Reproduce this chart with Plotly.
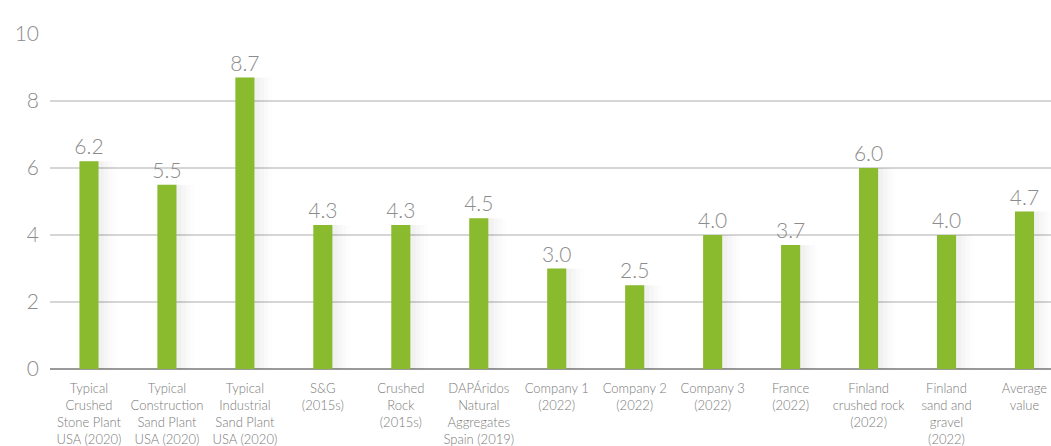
import plotly.graph_objects as go

categories = [
    "Typical<br>Crushed<br>Stone Plant<br>USA (2020)",
    "Typical<br>Construction<br>Sand Plant<br>USA (2020)",
    "Typical<br>Industrial<br>Sand Plant<br>USA (2020)",
    "S&G<br>(2015s)",
    "Crushed<br>Rock<br>(2015s)",
    "DAPÁridos<br>Natural<br>Aggregates<br>Spain (2019)",
    "Company 1<br>(2022)",
    "Company 2<br>(2022)",
    "Company 3<br>(2022)",
    "France<br>(2022)",
    "Finland<br>crushed rock<br>(2022)",
    "Finland<br>sand and<br>gravel<br>(2022)",
    "Average<br>value",
]
values = [6.2, 5.5, 8.7, 4.3, 4.3, 4.5, 3.0, 2.5, 4.0, 3.7, 6.0, 4.0, 4.7]
y_ticks = [0, 2, 4, 6, 8, 10]

BAR_GREEN = "#8aba2e"
LABEL_GREY = "#8c8c8c"
FONT = "Lato, 'Open Sans', sans-serif"

x = list(range(len(categories)))
fig = go.Figure()

# soft drop shadow to the right of each bar
for off, w, a in [(0.05, 0.28, 0.018), (0.08, 0.33, 0.014), (0.11, 0.38, 0.010), (0.14, 0.42, 0.007)]:
    fig.add_trace(go.Bar(
        x=[i + off for i in x], y=values, width=w,
        marker=dict(color=f"rgba(0,0,0,{a})", line=dict(width=0)),
        hoverinfo="skip", showlegend=False,
    ))

fig.add_trace(go.Bar(
    x=x, y=values, width=0.245,
    marker=dict(color=BAR_GREEN, line=dict(width=0)),
    text=[f"{v:.1f}" for v in values],
    textposition="outside",
    textfont=dict(family=FONT, size=21, color=LABEL_GREY, weight=300),
    cliponaxis=False,
    showlegend=False,
))

fig.update_layout(
    width=1051, height=446,
    margin=dict(l=50, r=0, t=34, b=77),
    barmode="overlay",
    plot_bgcolor="white", paper_bgcolor="white",
    font=dict(family=FONT, color=LABEL_GREY),
    xaxis=dict(
        range=[-0.5, 12.34], automargin=False,
        tickmode="array", tickvals=x, ticktext=categories,
        tickfont=dict(family=FONT, size=13, color="#7a7a7a", weight=300),
        showgrid=False, zeroline=False,
        showline=False, ticks="", ticklabelstandoff=10,
    ),
    yaxis=dict(
        range=[0, 10], automargin=False,
        tickmode="array", tickvals=y_ticks,
        tickfont=dict(family=FONT, size=21, color=LABEL_GREY, weight=300),
        showgrid=True, gridcolor="#d6d6d6", gridwidth=1.5,
        zeroline=True, zerolinecolor="#9a9a9a", zerolinewidth=1.5,
        ticks="", ticklabelstandoff=10,
    ),
)
fig.update_traces(constraintext="none", selector=dict(type="bar"))

fig.write_html("out.html")
